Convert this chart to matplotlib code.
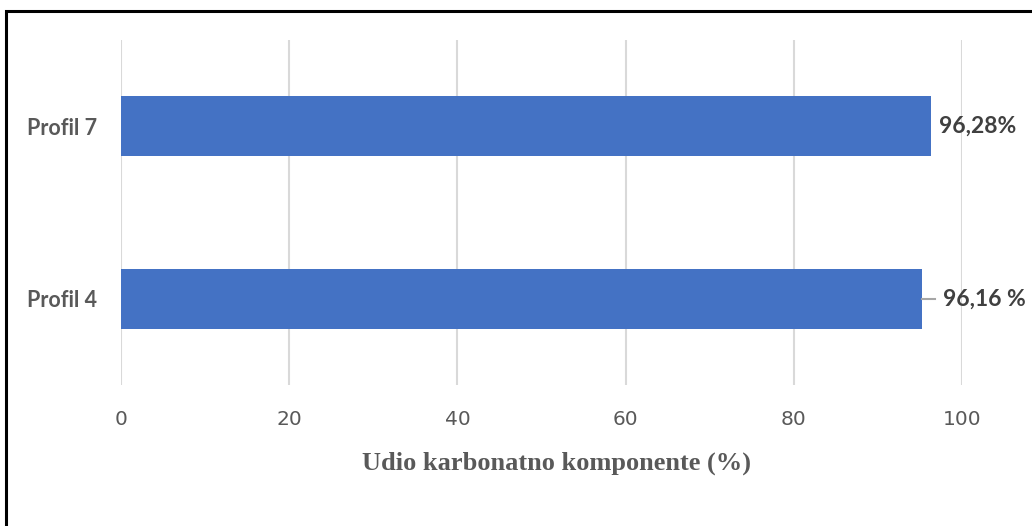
import matplotlib.pyplot as plt
from matplotlib.patches import Rectangle

# data
profiles = ["Profil 4", "Profil 7"]
values = [95.2, 96.28]          # bar lengths as drawn
value_labels = ["96,16 %", "96,28%"]
xticks = [0, 20, 40, 60, 80, 100]

bar_color = "#4472C4"
grid_color = "#D9D9D9"
text_color = "#595959"
label_font = ["Lato", "DejaVu Sans"]

fig = plt.figure(figsize=(10.32, 5.26), dpi=100)
ax = fig.add_axes([121 / 1032, 1 - 385 / 526, (962 - 121) / 1032, (385 - 40) / 526])

ypos = list(range(len(profiles)))
ax.barh(ypos, values, height=0.35, color=bar_color, zorder=3)

ax.set_xlim(0, 100)
ax.set_ylim(-0.5, 1.5)
ax.set_xticks(xticks)
ax.set_xticklabels([str(t) for t in xticks], family=["Liberation Sans Narrow", "DejaVu Sans"],
                   fontsize=14.5, color=text_color)
ax.tick_params(axis="x", length=0, pad=18)
ax.set_yticks(ypos)
ax.set_yticklabels(profiles, family=label_font, fontweight="bold",
                   fontsize=15.5, color=text_color)
ax.tick_params(axis="y", length=0, pad=17)

ax.grid(axis="x", color=grid_color, linewidth=1.5, zorder=0)
for s in ax.spines.values():
    s.set_visible(False)

# data labels
for y, v, lab in zip(ypos, values, value_labels):
    if y == 0:
        # label moved right with a leader line
        ax.plot([v, v + 1.6], [y, y], color="#A6A6A6", linewidth=1.5, zorder=4)
        ax.text(v + 2.5, y, lab, va="center", ha="left", fontsize=16.5, fontweight="bold",
                family=label_font, color="#404040")
    else:
        ax.text(v + 1.0, y, lab, va="center", ha="left", fontsize=16.5, fontweight="bold",
                family=label_font, color="#404040")

fig.text(556 / 1032, 1 - 463 / 526, "Udio karbonatno komponente (%)", ha="center", va="center",
         family="Liberation Serif", fontweight="bold", fontsize=19, color=text_color)

# outer frame (cropped on right/bottom)
fig.patches.append(Rectangle((6 / 1032, -0.1), 1.2, 1 - 11 / 526 + 0.1, transform=fig.transFigure,
                             fill=False, edgecolor="black", linewidth=2.2))

fig.savefig("out.png", dpi=100)
